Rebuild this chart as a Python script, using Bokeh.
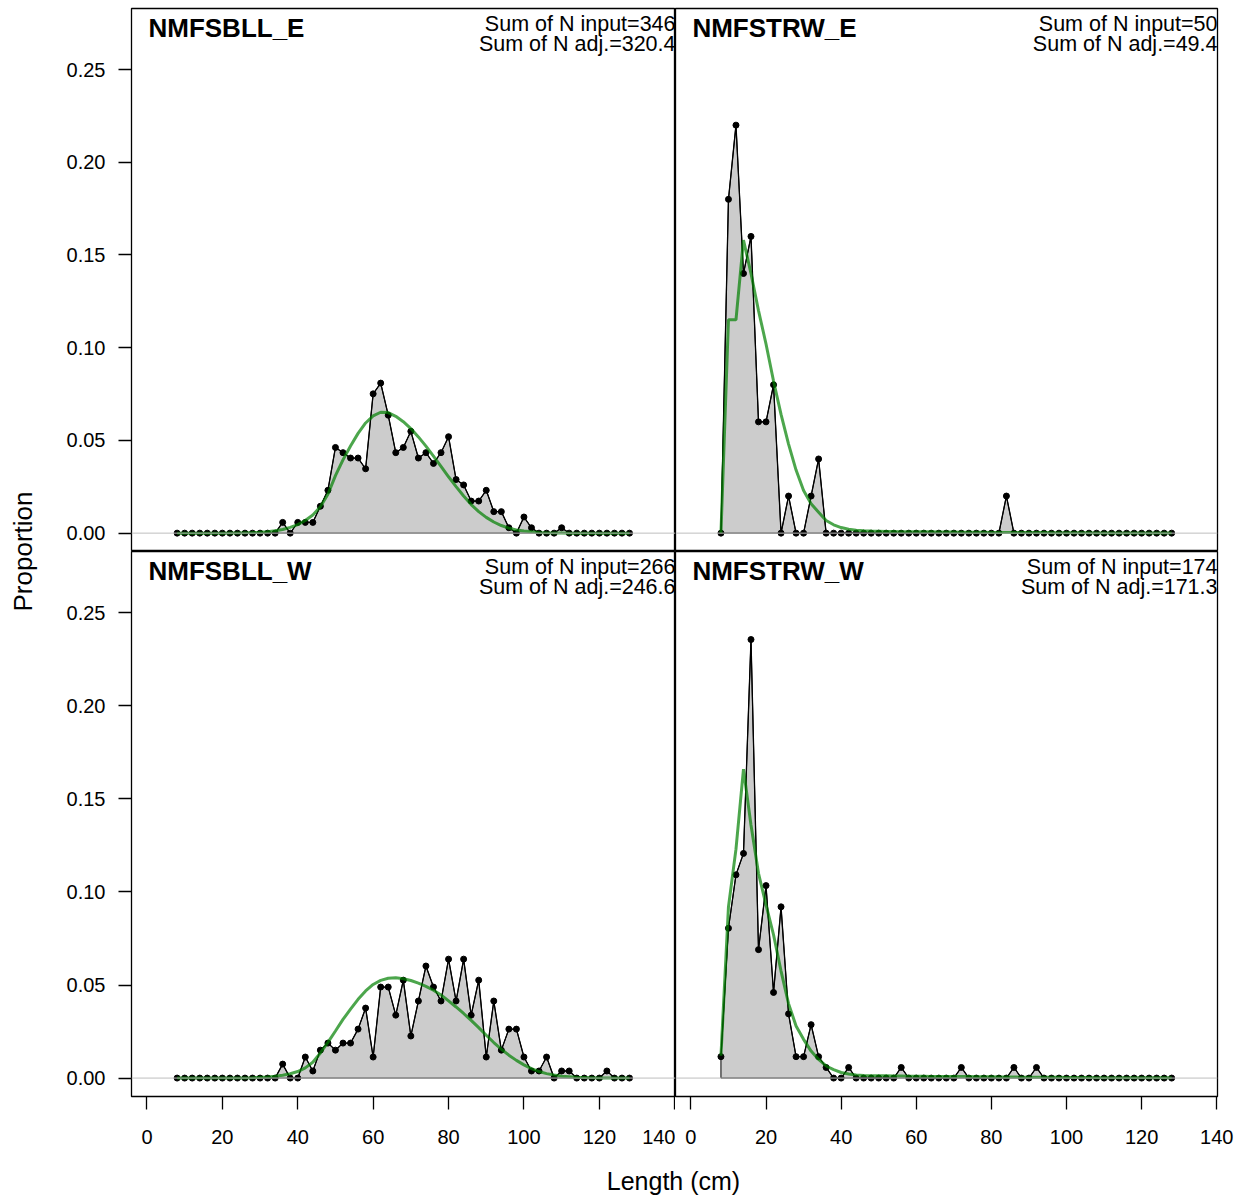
from math import pi
from bokeh.plotting import figure
from bokeh.layouts import row, column
from bokeh.models import Range1d, FixedTicker, NumeralTickFormatter, Label, Span
from bokeh.embed import file_html
from bokeh.resources import INLINE

# ---------------- data ----------------
length_bins = [8, 10, 12, 14, 16, 18, 20, 22, 24, 26,
               28, 30, 32, 34, 36, 38, 40, 42, 44, 46,
               48, 50, 52, 54, 56, 58, 60, 62, 64, 66,
               68, 70, 72, 74, 76, 78, 80, 82, 84, 86,
               88, 90, 92, 94, 96, 98, 100, 102, 104, 106,
               108, 110, 112, 114, 116, 118, 120, 122, 124, 126,
               128]

fleet_names = ["NMFSBLL_E", "NMFSTRW_E", "NMFSBLL_W", "NMFSTRW_W"]
n_input = ["346", "50", "266", "174"]
n_adj = ["320.4", "49.4", "246.6", "171.3"]

obs_bll_e = [0, 0, 0, 0, 0, 0, 0, 0, 0, 0,
             0, 0, 0, 0, 0.0058, 0, 0.0058, 0.0058, 0.0058, 0.0145,
             0.0231, 0.0462, 0.0434, 0.0405, 0.0405, 0.0347, 0.0751, 0.0809, 0.0636, 0.0434,
             0.0462, 0.0549, 0.0405, 0.0434, 0.0376, 0.0434, 0.0520, 0.0289, 0.0260, 0.0173,
             0.0173, 0.0231, 0.0116, 0.0116, 0.0029, 0, 0.0087, 0.0029, 0, 0,
             0, 0.0029, 0, 0, 0, 0, 0, 0, 0, 0,
             0]
exp_bll_e = [0, 0, 0, 0, 0, 0, 0, 0.0001, 0.0001, 0.0002,
             0.0003, 0.0005, 0.0008, 0.0013, 0.0020, 0.0031, 0.0046, 0.0068, 0.0098, 0.0142,
             0.0210, 0.0310, 0.0395, 0.0470, 0.0538, 0.0594, 0.0632, 0.0652, 0.0650, 0.0630,
             0.0601, 0.0564, 0.0519, 0.0469, 0.0415, 0.0360, 0.0304, 0.0251, 0.0200, 0.0154,
             0.0116, 0.0085, 0.0060, 0.0041, 0.0027, 0.0017, 0.0011, 0.0007, 0.0004, 0.0002,
             0.0001, 0.0001, 0, 0, 0, 0, 0, 0, 0, 0,
             0]

obs_trw_e = [0, 0.18, 0.22, 0.14, 0.16, 0.06, 0.06, 0.08, 0, 0.02,
             0, 0, 0.02, 0.04, 0, 0, 0, 0, 0, 0,
             0, 0, 0, 0, 0, 0, 0, 0, 0, 0,
             0, 0, 0, 0, 0, 0, 0, 0, 0.02, 0,
             0, 0, 0, 0, 0, 0, 0, 0, 0, 0,
             0, 0, 0, 0, 0, 0, 0, 0, 0, 0,
             0]
exp_trw_e = [0.0, 0.115, 0.115, 0.158, 0.140, 0.120, 0.102, 0.082, 0.064, 0.048,
             0.034, 0.023, 0.0158, 0.0113, 0.0068, 0.0045, 0.0030, 0.0021, 0.0016, 0.0013,
             0.0011, 0.0010, 0.0009, 0.0009, 0.0008, 0.0008, 0.0007, 0.0007, 0.0007, 0.0006,
             0.0006, 0.0006, 0.0005, 0.0005, 0.0005, 0.0005, 0.0004, 0.0004, 0.0004, 0.0004,
             0.0003, 0.0003, 0.0003, 0.0003, 0.0002, 0.0002, 0.0002, 0.0002, 0.0002, 0.0002,
             0.0001, 0.0001, 0.0001, 0.0001, 0.0001, 0.0001, 0.0001, 0.0001, 0.0001, 0.0001,
             0.0001]

obs_bll_w = [0, 0, 0, 0, 0, 0, 0, 0, 0, 0,
             0, 0, 0, 0, 0.0075, 0, 0, 0.0113, 0.0038, 0.0150,
             0.0188, 0.0150, 0.0188, 0.0188, 0.0263, 0.0376, 0.0113, 0.0489, 0.0489, 0.0338,
             0.0526, 0.0226, 0.0414, 0.0602, 0.0489, 0.0414, 0.0639, 0.0414, 0.0639, 0.0338,
             0.0526, 0.0113, 0.0414, 0.0150, 0.0263, 0.0263, 0.0113, 0.0038, 0.0038, 0.0113,
             0, 0.0038, 0.0038, 0, 0, 0, 0, 0.0038, 0, 0,
             0]
exp_bll_w = [0, 0, 0, 0, 0, 0, 0, 0, 0.0001, 0.0001,
             0.0002, 0.0004, 0.0006, 0.0010, 0.0015, 0.0023, 0.0035, 0.0055, 0.0085, 0.0135,
             0.0192, 0.0253, 0.0315, 0.0370, 0.0423, 0.0468, 0.0503, 0.0525, 0.0536, 0.0539,
             0.0534, 0.0524, 0.0510, 0.0493, 0.0472, 0.0446, 0.0415, 0.0382, 0.0347, 0.0310,
             0.0271, 0.0230, 0.0191, 0.0155, 0.0123, 0.0095, 0.0071, 0.0051, 0.0035, 0.0024,
             0.0016, 0.0010, 0.0007, 0.0004, 0.0003, 0.0002, 0.0001, 0.0001, 0, 0,
             0]

obs_trw_w = [0.0115, 0.0805, 0.1092, 0.1207, 0.2356, 0.0690, 0.1034, 0.0460, 0.0920, 0.0345,
             0.0115, 0.0115, 0.0287, 0.0115, 0.0057, 0, 0, 0.0057, 0, 0,
             0, 0, 0, 0, 0.0057, 0, 0, 0, 0, 0,
             0, 0, 0.0057, 0, 0, 0, 0, 0, 0, 0.0057,
             0, 0, 0.0057, 0, 0, 0, 0, 0, 0, 0,
             0, 0, 0, 0, 0, 0, 0, 0, 0, 0,
             0]
exp_trw_w = [0.012, 0.092, 0.123, 0.166, 0.136, 0.110, 0.093, 0.077, 0.0575, 0.040,
             0.028, 0.0208, 0.0145, 0.0100, 0.0065, 0.0045, 0.0030, 0.0022, 0.0017, 0.0014,
             0.0013, 0.0012, 0.0012, 0.0011, 0.0011, 0.0010, 0.0010, 0.0010, 0.0009, 0.0009,
             0.0009, 0.0008, 0.0008, 0.0008, 0.0007, 0.0007, 0.0007, 0.0006, 0.0006, 0.0006,
             0.0005, 0.0005, 0.0005, 0.0004, 0.0004, 0.0004, 0.0003, 0.0003, 0.0003, 0.0003,
             0.0002, 0.0002, 0.0002, 0.0002, 0.0002, 0.0002, 0.0002, 0.0002, 0.0002, 0.0002,
             0.0002]

x_ticks = [0, 20, 40, 60, 80, 100, 120, 140]
y_ticks = [0.0, 0.05, 0.10, 0.15, 0.20, 0.25]

FONT = "Liberation Sans"
X0, X1 = -4.1, 140.2
Y0, Y1 = -0.0099, 0.2829


def panel(name, obs, exp, nin, nadj, show_y, show_x, width, height, bl, br, bb, bt):
    p = figure(width=width, height=height, output_backend="svg", toolbar_location=None,
               x_range=Range1d(X0, X1), y_range=Range1d(Y0, Y1),
               x_axis_location="below" if show_x else None,
               y_axis_location="left" if show_y else None,
               min_border_left=bl, min_border_right=br, min_border_top=bt, min_border_bottom=bb,
               background_fill_color="white", border_fill_color="white",
               outline_line_color="black", outline_line_width=1.3)
    p.xgrid.grid_line_color = None
    p.ygrid.grid_line_color = None
    p.add_layout(Span(location=0, dimension="width", line_color="#bebebe", line_width=1))

    xs = [length_bins[0]] + length_bins + [length_bins[-1]]
    ys = [0] + obs + [0]
    p.patch(xs, ys, fill_color="#cccccc", line_color="black", line_width=1)
    p.line(length_bins, obs, line_color="black", line_width=1.3)
    p.scatter(length_bins, obs, size=6, color="black")
    p.line(length_bins, exp, line_color="#008000", line_alpha=0.7, line_width=3)

    p.add_layout(Label(x=0.4, y=Y1 - 0.0104, text=name, text_font=FONT,
                       text_font_style="bold", text_font_size="26px",
                       text_baseline="middle", text_align="left", text_color="black"))
    p.add_layout(Label(x=X1, y=Y1 - 0.0081, text="Sum of N input=" + nin, text_font=FONT,
                       text_font_size="21.5px", text_baseline="middle", text_align="right",
                       text_color="black"))
    p.add_layout(Label(x=X1, y=Y1 - 0.0189, text="Sum of N adj.=" + nadj, text_font=FONT,
                       text_font_size="21.5px", text_baseline="middle", text_align="right",
                       text_color="black"))

    axes = []
    if show_y:
        ax = p.yaxis[0]
        ax.ticker = FixedTicker(ticks=y_ticks)
        ax.formatter = NumeralTickFormatter(format="0.00")
        ax.major_label_standoff = 13
        axes.append(ax)
    if show_x:
        ax = p.xaxis[0]
        ax.ticker = FixedTicker(ticks=x_ticks)
        ax.major_label_standoff = 20
        axes.append(ax)
    for ax in axes:
        ax.axis_line_color = None
        ax.major_tick_in = 0
        ax.major_tick_out = 13
        ax.major_tick_line_color = "black"
        ax.major_tick_line_width = 1.3
        ax.minor_tick_line_color = None
        ax.major_label_text_font = FONT
        ax.major_label_text_font_size = "20px"
        ax.major_label_text_color = "black"
    return p


TOP_PAD = 8
TOP_H = TOP_PAD + 543
BOT_B = 56
BOT_H = 545 + BOT_B
LEFT_B = 93
LEFT_W = LEFT_B + 544
RIGHT_B = 20
RIGHT_W = 542 + RIGHT_B

tl = panel(fleet_names[0], obs_bll_e, exp_bll_e, n_input[0], n_adj[0], True, False,
           LEFT_W, TOP_H, LEFT_B, 0, 0, TOP_PAD)
tr = panel(fleet_names[1], obs_trw_e, exp_trw_e, n_input[1], n_adj[1], False, False,
           RIGHT_W, TOP_H, 0, RIGHT_B, 0, TOP_PAD)
bl = panel(fleet_names[2], obs_bll_w, exp_bll_w, n_input[2], n_adj[2], True, True,
           LEFT_W, BOT_H, LEFT_B, 0, BOT_B, 0)
br = panel(fleet_names[3], obs_trw_w, exp_trw_w, n_input[3], n_adj[3], False, True,
           RIGHT_W, BOT_H, 0, RIGHT_B, BOT_B, 0)


def strip(w, h):
    s = figure(width=w, height=h, output_backend="svg", toolbar_location=None,
               x_range=Range1d(0, 1), y_range=Range1d(0, 1),
               x_axis_location=None, y_axis_location=None, outline_line_color=None,
               min_border=0, min_border_left=0, min_border_right=0,
               min_border_top=0, min_border_bottom=0,
               background_fill_color="white", border_fill_color="white")
    s.xgrid.grid_line_color = None
    s.ygrid.grid_line_color = None
    return s


YL_W = 38
ylab = strip(YL_W, TOP_H + BOT_H)
ylab.add_layout(Label(x=22, y=BOT_H, x_units="screen", y_units="screen", text="Proportion",
                      angle=pi / 2, text_align="center", text_baseline="middle",
                      text_font=FONT, text_font_size="26px", text_color="black"))

XL_H = 47
xlab = strip(YL_W + LEFT_W + RIGHT_W, XL_H)
xlab.add_layout(Label(x=673, y=19, x_units="screen", y_units="screen", text="Length (cm)",
                      text_align="center", text_baseline="middle",
                      text_font=FONT, text_font_size="25px", text_color="black"))

grid = column(row(tl, tr, spacing=0), row(bl, br, spacing=0), spacing=0)
layout = column(row(ylab, grid, spacing=0), xlab, spacing=0)

open("out.html", "w").write(file_html(layout, INLINE))
